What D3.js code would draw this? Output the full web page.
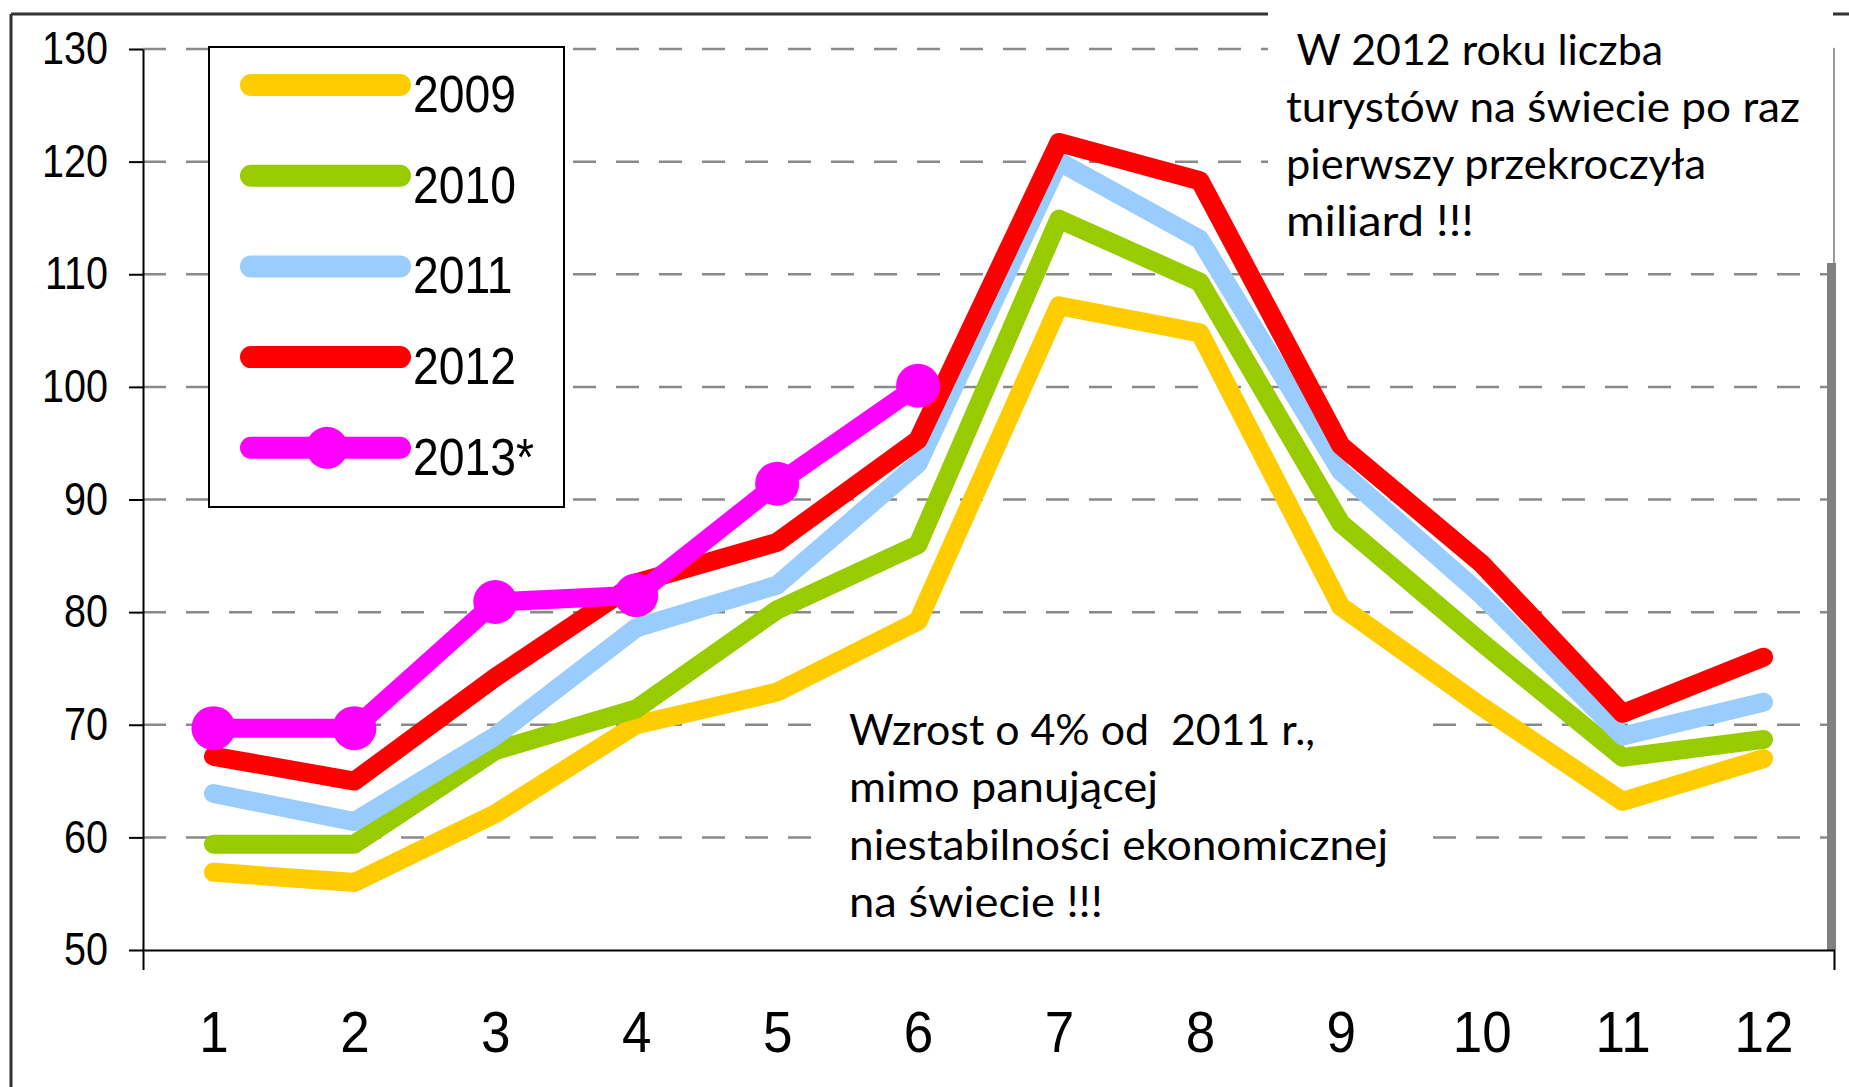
<!DOCTYPE html>
<html>
<head>
<meta charset="utf-8">
<script src="https://cdn.jsdelivr.net/npm/d3@7/dist/d3.min.js"></script>
<style>
  body { margin: 0; background: #fff; }
  .chart text { fill: #000; }
</style>
</head>
<body>
<div class="chart"></div>
<script>
// months on the category axis
const months = [1, 2, 3, 4, 5, 6, 7, 8, 9, 10, 11, 12];
const yTicks = [50, 60, 70, 80, 90, 100, 110, 120, 130];

const seriesNames = ["2009", "2010", "2011", "2012", "2013*"];
const values2009 = [56.9, 56.0, 62.1, 70.0, 72.9, 79.2, 107.2, 104.8, 80.5, 71.6, 63.2, 67.0];
const values2010 = [59.4, 59.4, 67.7, 71.4, 80.2, 86.0, 114.9, 109.3, 87.9, 77.3, 67.1, 68.7];
const values2011 = [63.9, 61.4, 69.0, 78.6, 82.4, 93.2, 120.0, 113.1, 92.5, 81.5, 69.0, 72.0];
const values2012 = [67.2, 65.0, 74.2, 82.6, 86.2, 95.3, 121.7, 118.3, 94.8, 84.3, 71.0, 76.0];
const values2013 = [69.7, 69.7, 80.9, 81.5, 91.4, 100.1];
const seriesColors = ["#ffcc00", "#99cc00", "#99ccff", "#ff0000", "#ff00ff"];

const noteTop = [" W 2012 roku liczba", "turystów na świecie po raz", "pierwszy przekroczyła", "miliard !!!"];
const noteBottom = ["Wzrost o 4% od  2011 r.,", "mimo panującej", "niestabilności ekonomicznej", "na świecie !!!"];

function drawChart(container_class) {
  const width = 1849, height = 1087;
  const axisFont = "'Liberation Sans', Arial, sans-serif";
  const noteFont = "Lato, 'Open Sans', sans-serif";

  const series = [values2009, values2010, values2011, values2012, values2013];

  const svg = d3.select(container_class)
    .append("svg")
    .attr("width", width)
    .attr("height", height);

  const x = d3.scalePoint()
    .domain(months)
    .range([143, 1834])
    .padding(0.5);

  const y = d3.scaleLinear()
    .domain([50, 130])
    .range([950, 49]);

  // outer frame of the pasted picture (left and top only)
  svg.append("line")
    .attr("x1", 11).attr("y1", 14).attr("x2", width).attr("y2", 14)
    .attr("stroke", "#333").attr("stroke-width", 3);
  svg.append("line")
    .attr("x1", 11).attr("y1", 14).attr("x2", 11).attr("y2", height)
    .attr("stroke", "#333").attr("stroke-width", 3);

  // dashed gridlines
  svg.append("g")
    .selectAll("line")
    .data(yTicks.filter(d => d > 50))
    .join("line")
      .attr("x1", 143)
      .attr("x2", 1834)
      .attr("y1", d => y(d))
      .attr("y2", d => y(d))
      .attr("stroke", "#8a8a8a")
      .attr("stroke-width", 2.5)
      .attr("stroke-dasharray", "23 20");

  // white text boxes sit over the grid
  svg.append("rect")
    .attr("x", 1268).attr("y", 0)
    .attr("width", 1833 - 1268).attr("height", 262)
    .attr("fill", "#fff");
  svg.append("rect")
    .attr("x", 825).attr("y", 719)
    .attr("width", 1433 - 825).attr("height", 226)
    .attr("fill", "#fff");

  // grey edge on the right
  svg.append("line")
    .attr("x1", 1834).attr("x2", 1834).attr("y1", 48).attr("y2", 263)
    .attr("stroke", "#9a9a9a").attr("stroke-width", 2);
  svg.append("rect")
    .attr("x", 1827).attr("y", 263)
    .attr("width", 9).attr("height", 950 - 263)
    .attr("fill", "#808080");

  // y axis
  const yAxis = svg.append("g")
    .attr("transform", `translate(${143}, 0)`)
    .call(d3.axisLeft(y).tickValues(yTicks).tickSizeInner(14).tickSizeOuter(0).tickFormat(d3.format("d")));
  yAxis.selectAll("path, line").attr("stroke", "#000").attr("stroke-width", 2);
  yAxis.selectAll("text")
    .attr("font-family", axisFont)
    .attr("font-size", 46)
    .attr("x", -35 / 0.86)
    .attr("transform", "scale(0.86,1)");

  // x axis
  const xAxis = svg.append("g")
    .attr("transform", `translate(0, ${950})`)
    .call(d3.axisBottom(x).tickSizeInner(0).tickSizeOuter(20).tickPadding(62));
  xAxis.selectAll("path, line").attr("stroke", "#000").attr("stroke-width", 2);
  xAxis.selectAll("text")
    .attr("font-family", axisFont)
    .attr("font-size", 57)
    .attr("transform", "scale(0.93,1)")
    .attr("x", 0);
  xAxis.selectAll(".tick").each(function(d) {
    // keep the label centred after the horizontal squeeze
    d3.select(this).select("text").attr("transform", `scale(0.93,1)`);
  });

  // series lines
  const line = d3.line()
    .x((d, i) => x(months[i]))
    .y(d => y(d));

  svg.append("g")
    .selectAll("path")
    .data(series)
    .join("path")
      .attr("d", d => line(d))
      .attr("fill", "none")
      .attr("stroke", (d, i) => seriesColors[i])
      .attr("stroke-width", 19)
      .attr("stroke-linecap", "round")
      .attr("stroke-linejoin", "round");

  // markers only on 2013
  svg.append("g")
    .selectAll("circle")
    .data(values2013)
    .join("circle")
      .attr("cx", (d, i) => x(months[i]))
      .attr("cy", d => y(d))
      .attr("r", 22)
      .attr("fill", seriesColors[4]);

  // legend
  const legend = svg.append("g");
  legend.append("rect")
    .attr("x", 209).attr("y", 47)
    .attr("width", 355).attr("height", 460)
    .attr("fill", "#fff")
    .attr("stroke", "#000")
    .attr("stroke-width", 2);

  const items = legend.selectAll("g.item")
    .data(seriesNames)
    .join("g")
      .attr("class", "item")
      .attr("transform", (d, i) => `translate(0, ${85 + i * 90.7})`);

  items.append("line")
    .attr("x1", 251).attr("x2", 400)
    .attr("stroke", (d, i) => seriesColors[i])
    .attr("stroke-width", 22)
    .attr("stroke-linecap", "round");

  items.filter((d, i) => i === 4)
    .append("circle")
    .attr("cx", 327).attr("r", 21)
    .attr("fill", seriesColors[4]);

  items.append("text")
    .attr("transform", "translate(413, 27) scale(0.89,1)")
    .attr("font-family", axisFont)
    .attr("font-size", 52)
    .text(d => d);

  // notes
  const topWidths = [377, 514, 420, 188];
  svg.append("g")
    .selectAll("text")
    .data(noteTop)
    .join("text")
      .attr("x", 1286)
      .attr("y", (d, i) => 65 + i * 57)
      .attr("font-family", noteFont)
      .attr("font-size", 42)
      .style("white-space", "pre")
      .attr("textLength", (d, i) => topWidths[i])
      .attr("lengthAdjust", "spacingAndGlyphs")
      .text(d => d);

  const bottomWidths = [466, 309, 539, 254];
  svg.append("g")
    .selectAll("text")
    .data(noteBottom)
    .join("text")
      .attr("x", 849)
      .attr("y", (d, i) => 745 + i * 57.3)
      .attr("font-family", noteFont)
      .attr("font-size", 42)
      .style("white-space", "pre")
      .attr("textLength", (d, i) => bottomWidths[i])
      .attr("lengthAdjust", "spacingAndGlyphs")
      .text(d => d);
}

drawChart(".chart");
</script>
</body>
</html>
